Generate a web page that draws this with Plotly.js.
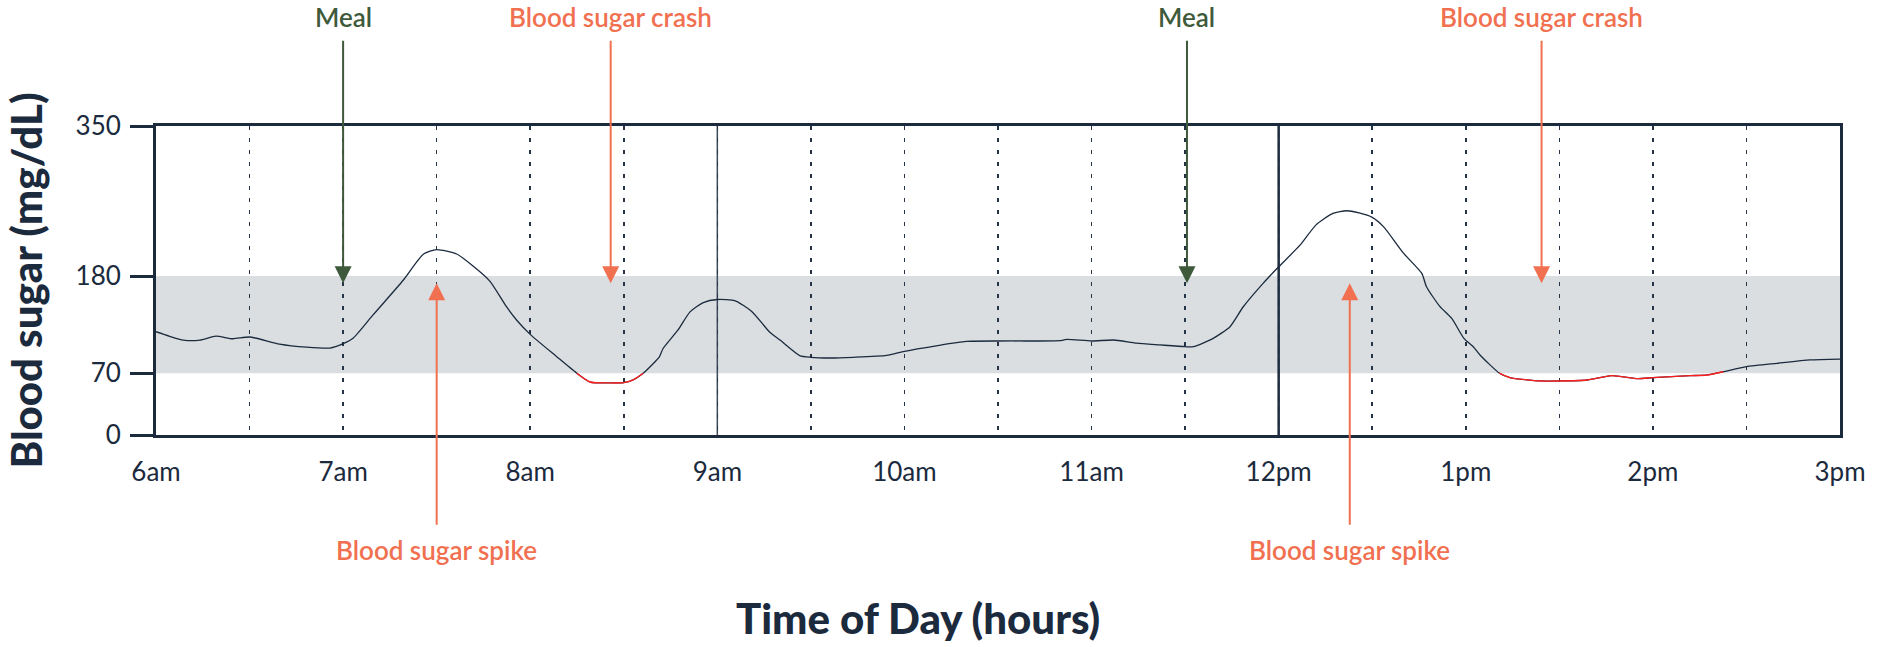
<!DOCTYPE html>
<html>
<head>
<meta charset="utf-8">
<script src="https://cdn.plot.ly/plotly-3.0.1.min.js"></script>
<style>
  html, body { margin: 0; padding: 0; background: #fff; }
  #chart { width: 1884px; height: 647px; }
</style>
</head>
<body>
<div id="chart"></div>
<script>
// readings (hours since midnight, mg/dL)
const times = [
    6.0, 6.07, 6.146, 6.235, 6.32, 6.41, 6.5, 6.66, 6.805, 6.93,
    7.0, 7.055, 7.16, 7.32, 7.43, 7.5, 7.607, 7.696, 7.785, 7.874,
    7.928, 8.0, 8.14, 8.249, 8.32, 8.427, 8.5, 8.55, 8.604, 8.658,
    8.69, 8.71, 8.79, 8.854, 8.925, 9.0, 9.095, 9.184, 9.282, 9.335,
    9.44, 9.5, 9.6, 9.727, 9.905, 10.0, 10.17, 10.33, 10.5, 10.65,
    10.83, 10.867, 11.0, 11.117, 11.24, 11.366, 11.5, 11.544, 11.65, 11.74,
    11.81, 11.918, 12.0, 12.114, 12.2, 12.29, 12.364, 12.43, 12.5, 12.56,
    12.667, 12.765, 12.79, 12.86, 12.925, 12.99, 13.04, 13.076, 13.18, 13.236,
    13.4, 13.5, 13.647, 13.78, 13.92, 14.0, 14.2, 14.29, 14.376, 14.5,
    14.664, 14.84, 15.0
];
const glucose = [
    117, 112, 107.5, 107.5, 112, 109, 111, 103, 99.5, 98.5,
    103.5, 110, 136, 175, 205, 210, 205, 191, 174, 145,
    130, 114, 89, 70, 60, 59, 59.3, 62.5, 70, 81,
    88.5, 98, 119, 139.5, 150, 153.5, 152, 140, 116, 107.5,
    90, 88, 87.2, 88, 90.2, 94.8, 101, 106, 106.5, 106.5,
    106.8, 108.3, 106.5, 107.6, 104, 102, 100, 100, 109.5, 122.7,
    145, 172, 190.5, 215, 238, 251, 254, 251.5, 246.5, 236,
    206, 183, 168, 146, 132, 109.5, 100, 90.6, 70, 65,
    61.2, 61.2, 62.3, 67.2, 63.8, 65, 67.2, 68, 71.7, 77.4,
    81.2, 85, 86
];

const hourTicks = [6, 7, 8, 9, 10, 11, 12, 13, 14, 15];
const hourLabels = ['6am', '7am', '8am', '9am', '10am', '11am', '12pm', '1pm', '2pm', '3pm'];
const halfHours = [6.5, 7.5, 8.5, 9.5, 10.5, 11.5, 12.5, 13.5, 14.5];
const solidHours = [9, 12];
const levelTicks = [0, 70, 180, 350];
const targetRange = [70, 180];

const mealTimes = [7.0, 11.51];
const spikeTimes = [7.5, 12.38];
const crashTimes = [8.43, 13.405];
const markerLevel = 172;

const NAVY = '#1b2a3d';
const GREEN = '#3e5a3b';
const ORANGE = '#f07050';
const FONT = 'Lato, "Open Sans", sans-serif';

// every half hour gets a dashed grid line, labels only on the hour
const gridTicks = [...hourTicks, ...halfHours].sort((a, b) => a - b);
const gridLabels = gridTicks.map(t => {
    const i = hourTicks.indexOf(t);
    return i >= 0 ? hourLabels[i] : '';
});

// low segment drawn in red on top of the main line
const lowGlucose = glucose.map(v => (v <= 72 ? v : null));

const traces = [
    {
        x: times, y: glucose, type: 'scatter', mode: 'lines',
        line: { color: NAVY, width: 1.3, shape: 'spline', smoothing: 0.6 },
        hoverinfo: 'skip'
    },
    {
        x: times, y: lowGlucose, type: 'scatter', mode: 'lines',
        line: { color: '#ff1f1f', width: 1.4, shape: 'spline', smoothing: 0.6 },
        connectgaps: false, hoverinfo: 'skip'
    }
];

function pointer(t, label, color, up) {
    return {
        x: t, y: markerLevel, xref: 'x', yref: 'y',
        text: label, showarrow: true,
        ax: 0, ay: up ? 267 : -266,
        arrowhead: 2, arrowsize: 1.7, arrowwidth: 2, arrowcolor: color,
        startstandoff: up ? 8 : 6,
        font: { family: FONT, size: 26, color: color, weight: 600 }
    };
}

const annotations = [
    ...mealTimes.map(t => pointer(t, 'Meal', GREEN, false)),
    ...crashTimes.map(t => pointer(t, 'Blood sugar crash', ORANGE, false)),
    ...spikeTimes.map(t => pointer(t, 'Blood sugar spike', ORANGE, true)),
    {
        x: 0.4525, y: -0.592, xref: 'paper', yref: 'paper',
        xanchor: 'center', yanchor: 'middle', showarrow: false,
        text: 'Time of Day (hours)',
        font: { family: FONT, size: 42, color: NAVY, weight: 900 }
    }
];

const shapes = [
    {
        type: 'rect', layer: 'below', xref: 'paper', yref: 'y',
        x0: 0, x1: 1, y0: targetRange[0], y1: targetRange[1],
        fillcolor: '#dadee1', line: { width: 0 }
    },
    // 9am and 12pm get solid lines drawn over the dashed grid
    ...solidHours.map((h, i) => ({
        type: 'line', layer: 'between', xref: 'x', yref: 'paper',
        x0: h, x1: h, y0: 0, y1: 1,
        line: i === 0 ? { color: '#3f4b5b', width: 1.5 } : { color: NAVY, width: 2.5 }
    }))
];

const layout = {
    width: 1884, height: 647,
    margin: { l: 156, r: 44, t: 126, b: 212 },
    paper_bgcolor: '#fff', plot_bgcolor: 'rgba(0,0,0,0)',
    showlegend: false,
    font: { family: FONT, color: NAVY },
    xaxis: {
        range: [6, 15], tickmode: 'array', tickvals: gridTicks, ticktext: gridLabels,
        showline: true, mirror: true, linecolor: NAVY, linewidth: 3,
        ticks: '', ticklabelstandoff: 12,
        tickfont: { family: FONT, size: 26, color: NAVY },
        showgrid: true, gridcolor: '#243345', gridwidth: 1.6, griddash: '4px,8px',
        zeroline: false, fixedrange: true
    },
    yaxis: {
        range: [0, 350], tickmode: 'array', tickvals: levelTicks,
        showline: true, mirror: true, linecolor: NAVY, linewidth: 3,
        ticks: 'outside', ticklen: 23, tickwidth: 3, tickcolor: NAVY,
        ticklabelstandoff: 4,
        tickfont: { family: FONT, size: 26, color: NAVY },
        showgrid: false, zeroline: false, fixedrange: true,
        title: {
            text: 'Blood sugar (mg/dL)', standoff: 20,
            font: { family: FONT, size: 42, color: NAVY, weight: 900 }
        }
    },
    shapes: shapes,
    annotations: annotations
};

Plotly.newPlot('chart', traces, layout, { displayModeBar: false, staticPlot: true });
</script>
</body>
</html>
